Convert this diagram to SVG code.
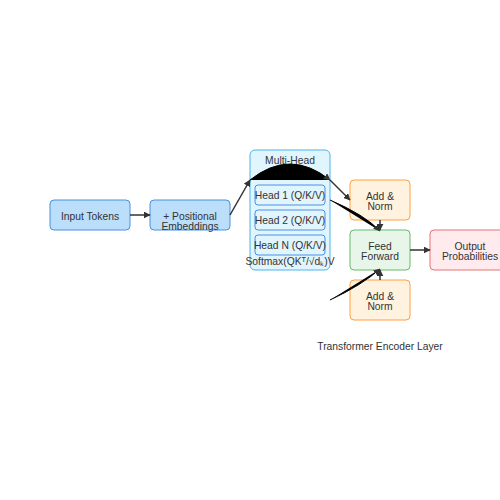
<svg xmlns="http://www.w3.org/2000/svg" width="500" height="500" viewBox="0 0 500 500">
<defs>
<marker id="ah" viewBox="0 0 10 10" refX="9" refY="5" markerWidth="7" markerHeight="7" orient="auto" markerUnits="userSpaceOnUse">
<path d="M0,0 L10,5 L0,10 z" fill="#333"/>
</marker>
<style>
text{font-family:"Liberation Sans",Arial,sans-serif;font-size:10.3px;fill:#333;text-anchor:middle}
.blue{fill:#bbdefb;stroke:#4a90e2;stroke-width:1}
.cont{fill:#e1f5fe;stroke:#4fb3e8;stroke-width:1}
.head{fill:#e1f5fe;stroke:#4a90e2;stroke-width:1}
.orange{fill:#fff3e0;stroke:#ffa040;stroke-width:1}
.green{fill:#e8f5e9;stroke:#66bb6a;stroke-width:1}
.red{fill:#ffebee;stroke:#e57373;stroke-width:1}
.e{stroke:#333;stroke-width:1.5;fill:none;marker-end:url(#ah)}
.f{stroke:#000;stroke-width:1;fill:#000;marker-end:url(#ah)}
</style>
</defs>
<rect width="500" height="500" fill="#fff"/>
<g id="input"><rect class="blue" x="50" y="200" width="80" height="30" rx="4"/><text x="90" y="219.5">Input Tokens</text></g>
<g id="posenc"><rect class="blue" x="150" y="200" width="80" height="30" rx="4"/><text x="190" y="219.5">+ Positional</text><text x="190" y="229.5">Embeddings</text></g>
<g id="multihead"><rect class="cont" x="250" y="150" width="80" height="120" rx="5"/><text x="290" y="164">Multi-Head</text></g>
<g id="head1"><rect class="head" x="255" y="185" width="70" height="20" rx="3"/><text x="290" y="199">Head 1 (Q/K/V)</text></g>
<g id="head2"><rect class="head" x="255" y="210" width="70" height="20" rx="3"/><text x="290" y="224">Head 2 (Q/K/V)</text></g>
<g id="headN"><rect class="head" x="255" y="235" width="70" height="20" rx="3"/><text x="290" y="249">Head N (Q/K/V)</text></g>
<g id="softmax"><text x="290" y="265">Softmax(QKᵀ/√dₖ)V</text></g>
<g id="addnorm1"><rect class="orange" x="350" y="180" width="60" height="40" rx="4"/><text x="380" y="199.5">Add &amp;</text><text x="380" y="210">Norm</text></g>
<g id="ff"><rect class="green" x="350" y="230" width="60" height="40" rx="4"/><text x="380" y="249.5">Feed</text><text x="380" y="260">Forward</text></g>
<g id="addnorm2"><rect class="orange" x="350" y="280" width="60" height="40" rx="4"/><text x="380" y="299.5">Add &amp;</text><text x="380" y="310">Norm</text></g>
<g id="output"><rect class="red" x="430" y="230" width="80" height="40" rx="4"/><text x="470" y="249.5">Output</text><text x="470" y="260">Probabilities</text></g>
<g id="caption"><text x="380" y="350">Transformer Encoder Layer</text></g>
<g id="connectors">
<path class="e" d="M130,215 L150,215"/>
<path class="e" d="M230,215 L250,180"/>
<path class="f" d="M250,180 Q290,148 330,180"/>
<path class="e" d="M330,180 L350,200"/>
<path class="f" d="M330,200 Q365,215 380,231"/>
<path class="e" d="M380,220 L380,230"/>
<path class="f" d="M330,300 Q362,285 380,269"/>
<path class="e" d="M380,280 L380,270"/>
<path class="e" d="M410,250 L430,250"/>
</g>
</svg>
